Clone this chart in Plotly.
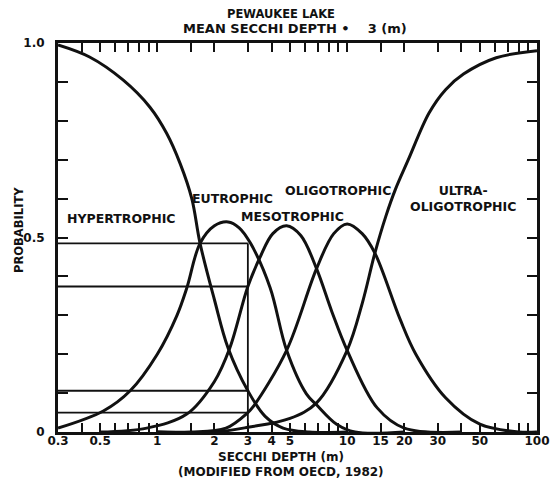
import math
import plotly.graph_objects as go

# ---- data ----
HYPER_X = [0.3, 0.44, 0.66, 0.915, 1.12, 1.32, 1.52, 1.68, 2.0, 2.36, 3.0, 3.7, 4.6, 6.3, 10]
HYPER_Y = [0.995, 0.964, 0.905, 0.835, 0.768, 0.69, 0.60, 0.485, 0.34, 0.216, 0.106, 0.04, 0.01, 0.0, 0.0]

EUTRO_X = [0.3, 0.52, 0.72, 1.0, 1.27, 1.43, 1.68, 2.0, 2.36, 2.7, 3.1, 3.93, 4.8, 6.1, 6.9, 8.8, 11, 20]
EUTRO_Y = [0.01, 0.054, 0.106, 0.2, 0.30, 0.37, 0.485, 0.53, 0.54, 0.525, 0.485, 0.371, 0.21, 0.098, 0.07, 0.02, 0.0, 0.0]

MESO_X = [0.5, 0.88, 1.43, 2.0, 2.41, 3.0, 3.47, 4.06, 4.8, 5.7, 6.9, 8.3, 10, 14.4, 20, 40]
MESO_Y = [0.0, 0.01, 0.046, 0.13, 0.216, 0.374, 0.448, 0.51, 0.53, 0.505, 0.42, 0.31, 0.21, 0.062, 0.01, 0.0]

OLIGO_X = [1.0, 1.5, 2.3, 3.0, 3.2, 4.8, 6.9, 8.5, 10, 12, 14, 19, 23, 33, 50, 80, 100]
OLIGO_Y = [0.0, 0.0, 0.01, 0.05, 0.065, 0.21, 0.42, 0.51, 0.535, 0.51, 0.46, 0.29, 0.2, 0.088, 0.02, 0.0, 0.0]

ULTRA_X = [1.0, 2.0, 3.0, 5.0, 6.9, 10, 12, 14, 16, 18, 21, 27, 33, 41, 61, 100]
ULTRA_Y = [0.0, 0.0, 0.012, 0.035, 0.075, 0.21, 0.33, 0.46, 0.555, 0.625, 0.70, 0.82, 0.88, 0.92, 0.962, 0.98]

CURVE_NAMES = ["HYPERTROPHIC", "EUTROPHIC", "MESOTROPHIC", "OLIGOTROPHIC", "ULTRA-OLIGOTROPHIC"]

MEAN_SECCHI = 3
INTERSECT_PROBS = [0.485, 0.374, 0.106, 0.05]

X_TICK_VALUES = [0.3, 0.4, 0.5, 0.6, 0.7, 0.8, 0.9, 1, 1.5, 2, 3, 4, 5, 6, 7, 8, 9,
                 10, 15, 20, 30, 40, 50, 60, 70, 80, 90, 100]
X_TICK_LABELS = ["0.3", "", "0.5", "", "", "", "", "1", "", "2", "3", "4", "5", "", "", "", "",
                 "10", "15", "20", "30", "", "50", "", "", "", "", "100"]
Y_TICK_VALUES = [0, 0.1, 0.2, 0.3, 0.4, 0.5, 0.6, 0.7, 0.8, 0.9, 1.0]
Y_TICK_LABELS = ["0", "", "", "", "", "0.5", "", "", "", "", "1.0"]

FONT = "DejaVu Sans"
BLACK = "#111111"

fig = go.Figure()

for xs, ys, name in zip([HYPER_X, EUTRO_X, MESO_X, OLIGO_X, ULTRA_X],
                        [HYPER_Y, EUTRO_Y, MESO_Y, OLIGO_Y, ULTRA_Y], CURVE_NAMES):
    fig.add_trace(go.Scatter(x=xs, y=ys, mode="lines", name=name,
                             line=dict(color=BLACK, width=3, shape="spline", smoothing=1.0),
                             showlegend=False, hoverinfo="skip"))

# horizontal reading lines from the y axis to the mean Secchi depth
for p in INTERSECT_PROBS:
    fig.add_trace(go.Scatter(x=[0.3, MEAN_SECCHI], y=[p, p], mode="lines",
                             line=dict(color=BLACK, width=1.8),
                             showlegend=False, hoverinfo="skip"))
# vertical line at the mean Secchi depth
fig.add_trace(go.Scatter(x=[MEAN_SECCHI, MEAN_SECCHI], y=[0, max(INTERSECT_PROBS)], mode="lines",
                         line=dict(color=BLACK, width=1.8), showlegend=False, hoverinfo="skip"))

label_font = dict(family=FONT, size=12.5, color=BLACK)
ann = [
    dict(x=0.327, y=0.549, text="<b>HYPERTROPHIC</b>", xanchor="left"),
    dict(x=1.48, y=0.60, text="<b>EUTROPHIC</b>", xanchor="left"),
    dict(x=2.71, y=0.554, text="<b>MESOTROPHIC</b>", xanchor="left"),
    dict(x=4.6, y=0.621, text="<b>OLIGOTROPHIC</b>", xanchor="left"),
    dict(x=41, y=0.60, text="<b>ULTRA-<br>OLIGOTROPHIC</b>", xanchor="center"),
]
for a in ann:
    fig.add_annotation(xref="x", yref="y", x=math.log10(a["x"]),
                       y=a["y"], text=a["text"], showarrow=False, xanchor=a["xanchor"],
                       yanchor="middle", font=label_font, align="center")

def paper_text(x, y, text, size, angle=0):
    fig.add_annotation(xref="paper", yref="paper", x=x, y=y, text=text, textangle=angle,
                       xanchor="center", yanchor="middle", showarrow=False,
                       font=dict(family=FONT, size=size, color=BLACK))

paper_text(0.466, 1.075, "<b>PEWAUKEE LAKE</b>", 11.5)
paper_text(0.495, 1.038, f"<b>MEAN SECCHI DEPTH \u2022    {MEAN_SECCHI} (m)</b>", 13)
paper_text(0.466, -0.065, "<b>SECCHI DEPTH (m)</b>", 12)
paper_text(0.466, -0.104, "<b>(MODIFIED FROM OECD, 1982)</b>", 12)
paper_text(-0.083, 0.52, "<b>PROBABILITY</b>", 11.5, angle=-90)

fig.update_layout(
    width=555, height=495, autosize=False,
    margin=dict(l=58, r=18, t=43, b=63),
    paper_bgcolor="white", plot_bgcolor="white",
    font=dict(family=FONT, size=11, color=BLACK),
    xaxis=dict(type="log", range=[math.log10(0.3), 2], automargin=False,
               tickvals=X_TICK_VALUES, ticktext=[f"<b>{t}</b>" if t else "" for t in X_TICK_LABELS],
               ticks="inside", ticklen=9, tickwidth=2, tickcolor=BLACK, ticklabelstandoff=-4,
               showline=True, linewidth=3, linecolor=BLACK, mirror="ticks",
               showgrid=False, zeroline=False, tickfont=dict(family=FONT, size=12, color=BLACK)),
    yaxis=dict(range=[0, 1.0], tickvals=Y_TICK_VALUES, automargin=False,
               ticktext=[f"<b>{t}</b>" if t else "" for t in Y_TICK_LABELS],
               ticks="inside", ticklen=10, tickwidth=2, tickcolor=BLACK, ticklabelstandoff=8,
               showline=True, linewidth=3, linecolor=BLACK, mirror="ticks",
               showgrid=False, zeroline=False, tickfont=dict(family=FONT, size=12, color=BLACK)),
)

# remove the default page margin so the 555x495 figure fills the window exactly
fig.write_html("out.html", config={"displayModeBar": False},
               post_script="document.body.style.margin='0';document.body.style.overflow='hidden';")
